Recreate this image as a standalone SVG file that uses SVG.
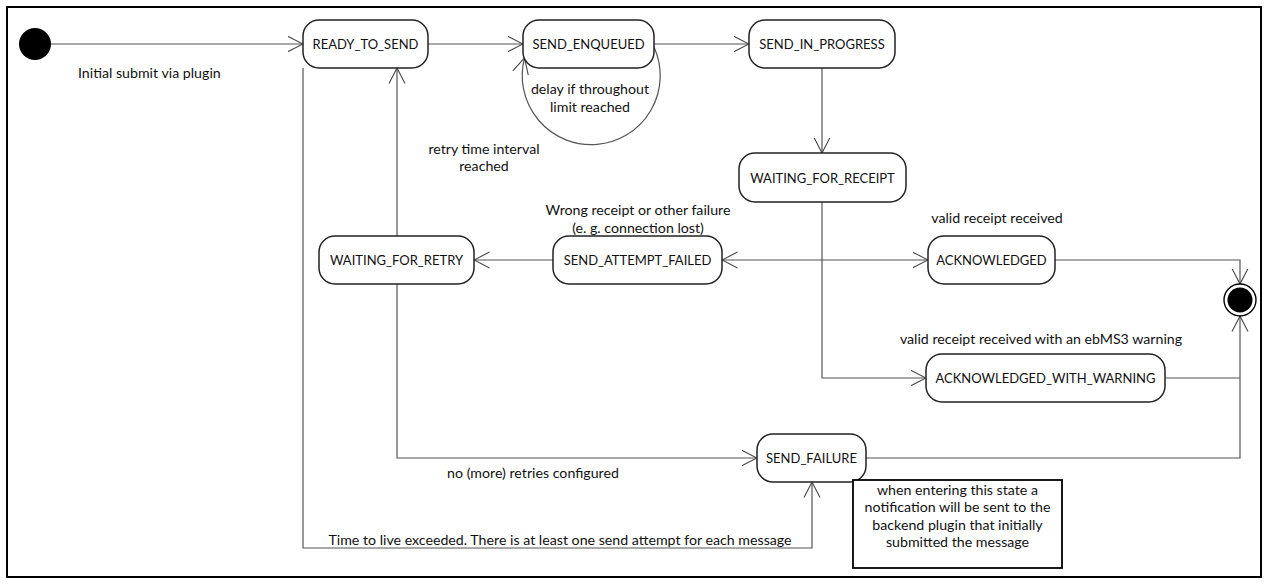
<svg xmlns="http://www.w3.org/2000/svg" width="1265" height="584" viewBox="0 0 1265 584">
<style>
.st{fill:#fff;stroke:#222;stroke-width:1.5}
.nt{font-family:Lato,"Liberation Sans",sans-serif;font-size:13px;fill:#111;text-anchor:middle;dominant-baseline:central}
.lb{font-family:Lato,"Liberation Sans",sans-serif;font-size:14.2px;fill:#111;text-anchor:middle;dominant-baseline:central}
.ln{fill:none;stroke:#555;stroke-width:1.2}
.ar{marker-end:url(#arr)}
</style>
<defs>
<marker id="arr" viewBox="0 0 16 18" refX="15.5" refY="9" markerWidth="16" markerHeight="18" markerUnits="userSpaceOnUse" orient="auto-start-reverse">
<path d="M0,1 L15.5,9 L0,17" fill="none" stroke="#444" stroke-width="1.1"/>
</marker>
</defs>
<rect x="0" y="0" width="1265" height="584" fill="#fff"/>
<rect x="7" y="7" width="1254" height="570" fill="none" stroke="#000" stroke-width="2"/>

<g id="connectors">
<line class="ln ar" x1="51" y1="44" x2="303" y2="44"/>
<line class="ln ar" x1="428" y1="44" x2="523" y2="44"/>
<line class="ln ar" x1="654" y1="44" x2="749" y2="44"/>
<path class="ln ar" d="M654,47 A69,69 0 1 1 524.5,58"/>
<line class="ln ar" x1="822" y1="68" x2="822" y2="153"/>
<polyline class="ln ar" points="822,202 822,378 926,378"/>
<line class="ln ar" x1="722" y1="260" x2="928" y2="260" style="marker-start:url(#arr)"/>
<line class="ln ar" x1="553" y1="260" x2="474" y2="260"/>
<line class="ln ar" x1="397" y1="236" x2="397" y2="68"/>
<polyline class="ln ar" points="397,284 397,458 757,458"/>
<polyline class="ln ar" points="303,68 303,548 812,548 812,482"/>
<polyline class="ln ar" points="1055,260 1240,260 1240,284"/>
<line class="ln" x1="1165" y1="378" x2="1240" y2="378"/>
<polyline class="ln ar" points="866,458 1240,458 1240,316"/>
</g>

<g id="start"><circle cx="35" cy="44" r="16" fill="#000"/></g>
<g id="final"><circle cx="1240" cy="300" r="16" fill="#fff" stroke="#000" stroke-width="1.4"/><circle cx="1240" cy="300" r="12.5" fill="#000"/></g>

<g id="ready_to_send"><rect class="st" x="303" y="20" width="125" height="48" rx="16"/><text class="nt" x="365.5" y="44">READY_TO_SEND</text></g>
<g id="send_enqueued"><rect class="st" x="523" y="20" width="131" height="48" rx="16"/><text class="nt" x="588.5" y="44">SEND_ENQUEUED</text></g>
<g id="send_in_progress"><rect class="st" x="749" y="20" width="146" height="48" rx="16"/><text class="nt" x="822" y="44">SEND_IN_PROGRESS</text></g>
<g id="waiting_for_receipt"><rect class="st" x="739" y="153" width="167" height="49" rx="16"/><text class="nt" x="822.5" y="177.5">WAITING_FOR_RECEIPT</text></g>
<g id="waiting_for_retry"><rect class="st" x="319" y="236" width="155" height="48" rx="16"/><text class="nt" x="396.5" y="260">WAITING_FOR_RETRY</text></g>
<g id="send_attempt_failed"><rect class="st" x="553" y="236" width="169" height="48" rx="16"/><text class="nt" x="637.5" y="260">SEND_ATTEMPT_FAILED</text></g>
<g id="acknowledged"><rect class="st" x="928" y="236" width="127" height="48" rx="16"/><text class="nt" x="991.5" y="260">ACKNOWLEDGED</text></g>
<g id="acknowledged_with_warning"><rect class="st" x="926" y="354" width="239" height="48" rx="16"/><text class="nt" x="1045.5" y="378">ACKNOWLEDGED_WITH_WARNING</text></g>
<g id="send_failure"><rect class="st" x="757" y="434" width="109" height="48" rx="16"/><text class="nt" x="811.5" y="458">SEND_FAILURE</text></g>
<g id="note"><rect x="853" y="480" width="209" height="88" fill="#fff" stroke="#000" stroke-width="1.8"/>
<text class="lb" x="957.5" y="489">when entering this state a</text>
<text class="lb" x="957.5" y="506.5">notification will be sent to the</text>
<text class="lb" x="957.5" y="524">backend plugin that initially</text>
<text class="lb" x="957.5" y="541.5">submitted the message</text></g>

<g id="labels">
<text class="lb" x="78" y="72" style="text-anchor:start">Initial submit via plugin</text>
<text class="lb" x="590" y="88">delay if throughout</text>
<text class="lb" x="590" y="106">limit reached</text>
<text class="lb" x="484" y="148">retry time interval</text>
<text class="lb" x="484" y="165">reached</text>
<text class="lb" x="638" y="209">Wrong receipt or other failure</text>
<text class="lb" x="638" y="227">(e. g. connection lost)</text>
<text class="lb" x="997" y="217">valid receipt received</text>
<text class="lb" x="1041" y="338">valid receipt received with an ebMS3 warning</text>
<text class="lb" x="533" y="472">no (more) retries configured</text>
<text class="lb" x="560" y="539">Time to live exceeded. There is at least one send attempt for each message</text>
</g>
</svg>
